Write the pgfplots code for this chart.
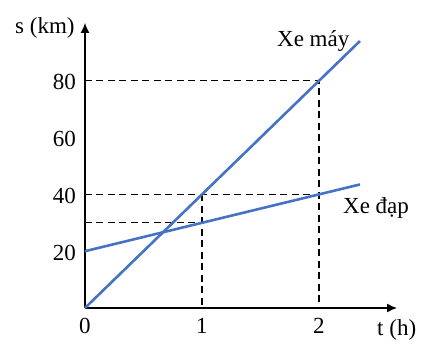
\documentclass[border=0pt]{standalone}
\usepackage{fontspec}
\setmainfont{Liberation Serif}
\usepackage{pgfplots}
\pgfplotsset{compat=1.18}
\usetikzlibrary{arrows.meta}
\definecolor{lineblue}{RGB}{68,114,196}
\begin{document}
\begin{tikzpicture}
\begin{axis}[
  x=117pt, y=2.84pt,
  xmin=0, xmax=2.667, ymin=0, ymax=100.4,
  axis lines=left,
  axis line style={line width=1.4pt, -{Latex[length=10pt,width=9pt]}},
  xtick={0,1,2}, ytick={20,40,60,80},
  major tick length=0pt,
  tick style={draw=none},
  /pgf/number format/assume math mode=true,
  ticklabel style={font=\fontsize{23}{26}\selectfont, inner sep=0pt},
  xticklabel style={anchor=north, yshift=-10pt},
  yticklabel style={anchor=east, xshift=-9pt, yshift=-1.5pt},
  clip=false,
]
\coordinate (O) at (axis cs:0,0);
\addplot[black, line width=1.4pt, dash pattern=on 7pt off 4.5pt] coordinates {(0,80) (2,80) (2,0)};
\addplot[black, line width=1.4pt, dash pattern=on 7pt off 4.5pt] coordinates {(0,40) (2,40)};
\addplot[black, line width=1.4pt, dash pattern=on 7pt off 4.5pt] coordinates {(0,30) (1,30)};
\addplot[black, line width=1.4pt, dash pattern=on 7pt off 4.5pt] coordinates {(1,40) (1,0)};
\addplot[lineblue, line width=2.6pt] coordinates {(0,0) (2.35,94)};
\addplot[lineblue, line width=2.6pt] coordinates {(0,20) (2.35,43.5)};
\node[font=\fontsize{23}{26}\selectfont, anchor=base west, inner sep=0pt] at (axis cs:-0.598,96.8) {s (km)};
\node[font=\fontsize{23}{26}\selectfont, anchor=base west, inner sep=0pt] at (axis cs:2.496,-9.86) {t (h)};
\node[font=\fontsize{23}{26}\selectfont, anchor=base west, inner sep=0pt] at (axis cs:1.641,91.9) {Xe máy};
\node[font=\fontsize{23}{26}\selectfont, anchor=base west, inner sep=0pt] at (axis cs:2.205,33.1) {Xe đạp};
\end{axis}
\useasboundingbox ([shift={(-85pt,-44pt)}]O) rectangle ([shift={(347pt,308pt)}]O);
\end{tikzpicture}
\end{document}
